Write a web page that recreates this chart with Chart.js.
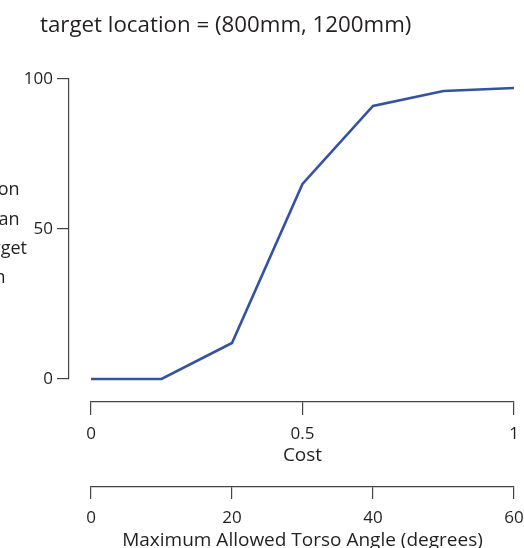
<!DOCTYPE html>
<html>
<head>
<meta charset="utf-8">
<script src="https://cdn.jsdelivr.net/npm/chart.js@4.4.1/dist/chart.umd.min.js"></script>
<style>
  html, body { margin: 0; padding: 0; background: #fff; }
  #wrap { width: 524px; height: 548px; }
</style>
</head>
<body>
<div id="wrap"><canvas id="myChart"></canvas></div>
<script>
// values
var torsoAngles = [0, 10, 20, 30, 40, 50, 60];
var successPct = [0, 0, 12, 65, 91, 96, 97];
var costTicks = [0, 0.5, 1];
var torsoTicks = [0, 20, 40, 60];
var yTicks = [0, 50, 100];
var titleText = 'target location = (800mm, 1200mm)';
// y label is cut off at the left edge of the figure
var yLabelLines = ['Percent of solution', 'closer than', '1cm to target', 'location'];

var ink = '#231f20';
var axisColor = '#444';
var fam = "'Open Sans', sans-serif";

// title (offset from the left) and the horizontal, clipped y label
var sideText = {
    id: 'sideText',
    afterDraw: function(chart) {
        var ctx = chart.ctx;
        var rights = [19.5, 19.5, 27, 5.5];
        var base = [195, 224.5, 254, 283];
        ctx.save();
        ctx.fillStyle = ink;
        ctx.textBaseline = 'alphabetic';
        ctx.font = '22.3px ' + fam;
        ctx.textAlign = 'left';
        ctx.fillText(titleText, 40, 32);
        ctx.font = '18px ' + fam;
        ctx.textAlign = 'right';
        yLabelLines.forEach(function(t, i) {
            ctx.fillText(t, rights[i], base[i]);
        });
        ctx.restore();
    }
};

function fixed(list) {
    return function(scale) {
        scale.ticks = list.map(function(v) { return { value: v }; });
    };
}
function plain(v) { return String(v); }
// fixed axis height; tick padding would otherwise eat into the right edge
function xBox(h) {
    return function(s) {
        s.height = h;
        s.paddingLeft = 6;
        s.paddingRight = 10;
    };
}

var ctx = document.getElementById('myChart').getContext('2d');
var chart = new Chart(ctx, {
    type: 'line',
    data: {
        datasets: [{
            label: 'success',
            data: torsoAngles.map(function(a, i) { return { x: a, y: successPct[i] }; }),
            borderColor: '#3352a4',
            borderWidth: 2.6,
            pointRadius: 0,
            tension: 0,
            fill: false,
            clip: false,
            xAxisID: 'torso',
            yAxisID: 'y'
        }]
    },
    options: {
        responsive: true,
        maintainAspectRatio: false,
        animation: false,
        layout: { padding: { left: 0, right: 0, top: 79, bottom: 0 } },
        plugins: {
            legend: { display: false },
            tooltip: { enabled: false },
            title: { display: false }
        },
        scales: {
            torso: {
                type: 'linear', axis: 'x', position: 'bottom', weight: 2,
                min: 0, max: 60,
                afterBuildTicks: fixed(torsoTicks),
                ticks: { color: ink, font: { family: fam, size: 17 }, padding: 9, maxRotation: 0, callback: plain },
                grid: { drawOnChartArea: false, tickLength: 12, color: axisColor, lineWidth: 1.2 },
                border: { color: axisColor, width: 1.2 },
                title: { display: true, text: 'Maximum Allowed Torso Angle (degrees)', color: ink,
                         font: { family: fam, size: 19, lineHeight: 0.8 }, padding: { top: 0, bottom: 0 } },
                afterFit: xBox(61)
            },
            cost: {
                type: 'linear', axis: 'x', position: 'bottom', weight: 1,
                min: 0, max: 1,
                afterBuildTicks: fixed(costTicks),
                ticks: { color: ink, font: { family: fam, size: 17 }, padding: 9, maxRotation: 0, callback: plain },
                grid: { drawOnChartArea: false, tickLength: 13, color: axisColor, lineWidth: 1.2 },
                border: { color: axisColor, width: 1.2 },
                title: { display: true, text: 'Cost', color: ink,
                         font: { family: fam, size: 19, lineHeight: 1.2 }, padding: { top: 0, bottom: 20 } },
                afterFit: xBox(85)
            },
            gapX: {
                type: 'linear', axis: 'x', position: 'bottom', weight: 0,
                min: 0, max: 1,
                ticks: { display: false }, grid: { display: false }, border: { display: false },
                afterFit: function(s) { s.height = 23; }
            },
            y: {
                type: 'linear', position: 'left', weight: 1,
                min: 0, max: 100,
                afterBuildTicks: fixed(yTicks),
                ticks: { color: ink, font: { family: fam, size: 17 }, padding: 4, callback: plain },
                grid: { drawOnChartArea: false, tickLength: 12, color: axisColor, lineWidth: 1.2 },
                border: { color: axisColor, width: 1.2 },
                afterFit: function(s) { s.width = 69; }
            },
            gapY: {
                type: 'linear', axis: 'y', position: 'left', weight: 0,
                min: 0, max: 100,
                ticks: { display: false }, grid: { display: false }, border: { display: false },
                afterFit: function(s) { s.width = 22; }
            }
        }
    },
    plugins: [sideText]
});
</script>
</body>
</html>
